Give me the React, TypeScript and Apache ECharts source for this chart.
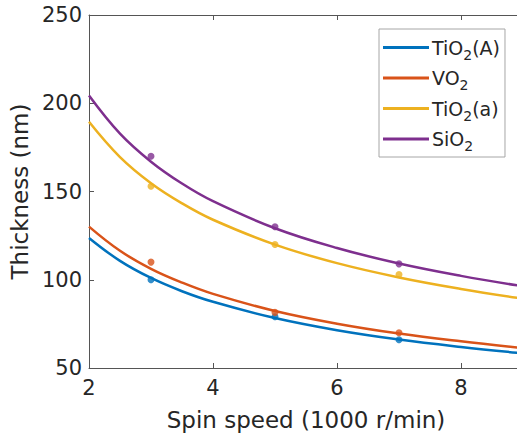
import React, { useEffect, useRef } from "react";
import * as echarts from "echarts";

// Spin speed (1000 r/min) at which the fitted curves are sampled
const fitSpeeds = [2, 2.5, 3, 3.5, 4, 5, 6, 7, 8, 9];
// Fitted thickness curves (nm)
const fitTiO2A = [123.7, 110.7, 101.0, 93.5, 87.5, 78.3, 71.4, 66.1, 61.9, 58.3];
const fitVO2 = [130.1, 116.4, 106.2, 98.4, 92.0, 82.3, 75.1, 69.5, 65.1, 61.3];
const fitTiO2a = [189.5, 169.5, 154.7, 143.3, 134.0, 119.9, 109.4, 101.3, 94.8, 89.3];
const fitSiO2 = [204.4, 182.8, 166.9, 154.5, 144.5, 129.2, 118.0, 109.2, 102.2, 96.3];

// Measured film thickness (nm)
const measSpeeds = [3, 5, 7];
const measTiO2A = [100, 79, 66];
const measVO2 = [110, 81.5, 70];
const measTiO2a = [153, 120, 103];
const measSiO2 = [170, 130, 109];

const names = ["TiO2(A)", "VO2", "TiO2(a)", "SiO2"];
const colors = ["#0072BD", "#D95319", "#EDB120", "#7E2F8E"];

const xTicks = { min: 2, max: 9, interval: 2 };
const yTicks = { min: 50, max: 250, interval: 50 };

const zip = (xs: number[], ys: number[]) => xs.map((x, i) => [x, ys[i]]);

export default function App() {
  const ref = useRef<HTMLDivElement>(null);

  useEffect(() => {
    if (!ref.current) return;
    const chart = echarts.init(ref.current, null, { renderer: "svg" });
    const fits = [fitTiO2A, fitVO2, fitTiO2a, fitSiO2];
    const meas = [measTiO2A, measVO2, measTiO2a, measSiO2];
    const axisColor = "#555555";
    const textColor = "#262626";
    const font = "DejaVu Sans";

    const series: any[] = [];
    names.forEach((name, i) => {
      series.push({
        name,
        type: "line",
        data: zip(fitSpeeds, fits[i]),
        smooth: 0.4,
        showSymbol: false,
        symbol: "none",
        lineStyle: { color: colors[i], width: 2.5 },
        itemStyle: { color: colors[i] },
        z: 2,
      });
    });
    names.forEach((name, i) => {
      series.push({
        name: name + " data",
        type: "scatter",
        data: zip(measSpeeds, meas[i]),
        symbol: "circle",
        symbolSize: 7,
        itemStyle: { color: colors[i] },
        z: 3,
      });
    });

    const valueAxisBase = {
      type: "value",
      axisLine: { show: true, lineStyle: { color: axisColor, width: 1 } },
      axisTick: { show: true, inside: true, length: 5, lineStyle: { color: axisColor } },
      splitLine: { show: false },
    };

    chart.setOption({
      animation: false,
      backgroundColor: "#ffffff",
      grid: { left: 89, top: 15, right: 7, bottom: 65, containLabel: false },
      xAxis: [
        {
          ...valueAxisBase,
          ...xTicks,
          position: "bottom",
          name: "Spin speed (1000 r/min)",
          nameLocation: "middle",
          nameGap: 40,
          nameTextStyle: { fontSize: 23, color: textColor, fontFamily: font },
          axisLabel: {
            fontSize: 21,
            color: textColor,
            fontFamily: font,
            margin: 9,
            showMaxLabel: false,
          },
        },
        {
          ...valueAxisBase,
          ...xTicks,
          position: "top",
          axisLabel: { show: false },
        },
      ],
      yAxis: [
        {
          ...valueAxisBase,
          ...yTicks,
          position: "left",
          name: "Thickness (nm)",
          nameLocation: "middle",
          nameGap: 50,
          nameTextStyle: { fontSize: 23, color: textColor, fontFamily: font },
          axisLabel: { fontSize: 21, color: textColor, fontFamily: font, margin: 7 },
        },
        {
          ...valueAxisBase,
          ...yTicks,
          position: "right",
          axisLabel: { show: false },
        },
      ],
      legend: {
        data: names,
        orient: "vertical",
        left: 379,
        top: 29,
        padding: [9, 5, 4, 4],
        itemGap: 7,
        itemWidth: 46,
        itemHeight: 3,
        icon: "rect",
        borderColor: "#a6a6a6",
        borderWidth: 1,
        backgroundColor: "#ffffff",
        formatter: (name: string) => name.replace("2", "{s|2}"),
        textStyle: {
          fontSize: 19,
          color: textColor,
          fontFamily: font,
          padding: [0, 0, 0, -2],
          rich: {
            s: {
              fontSize: 14,
              fontFamily: font,
              color: textColor,
              padding: [14, 0, 0, 0],
            },
          },
        },
      },
      series,
    });

    return () => chart.dispose();
  }, []);

  return (
    <div
      style={{
        position: "fixed",
        left: 0,
        top: 0,
        width: 517,
        height: 436,
        overflow: "hidden",
        background: "#fff",
      }}
    >
      <div ref={ref} style={{ width: 530, height: 436 }} />
    </div>
  );
}
